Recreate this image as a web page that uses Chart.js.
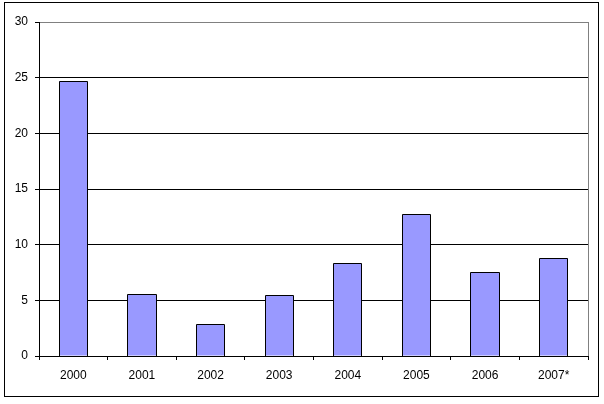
<!DOCTYPE html>
<html><head><meta charset="utf-8">
<script src="https://cdn.jsdelivr.net/npm/chart.js@4"></script>
<style>html,body{margin:0;padding:0;background:#fff}#wrap{width:604px;height:404px}</style>
</head><body><div id="wrap"><canvas id="c" width="604" height="404"></canvas></div>
<script>
const categories = ['2000','2001','2002','2003','2004','2005','2006','2007*'];
const values = [24.7, 5.5, 2.8, 5.4, 8.3, 12.7, 7.5, 8.8];
const yMin = 0, yMax = 30, yStep = 5;

const frame = {
  id: 'frame',
  beforeDraw(chart) {
    const ctx = chart.ctx;
    ctx.save();
    ctx.fillStyle = '#fff';
    ctx.fillRect(0, 0, chart.width, chart.height);
    ctx.restore();
  },
  afterDatasetsDraw(chart) {
    const ctx = chart.ctx;
    const meta = chart.getDatasetMeta(0);
    ctx.save();
    ctx.strokeStyle = '#000';
    ctx.lineWidth = 1;
    meta.data.forEach((el) => {
      const p = el.getProps(['x', 'y', 'base', 'width'], true);
      const l = Math.floor(p.x - p.width / 2) + 0.5;
      const r = Math.ceil(p.x + p.width / 2) - 0.5;
      const t = Math.floor(p.y) + 0.5;
      const b = Math.round(p.base) + 0.5;
      ctx.beginPath();
      ctx.moveTo(l, b);
      ctx.lineTo(l, t);
      ctx.lineTo(r, t);
      ctx.lineTo(r, b);
      ctx.stroke();
    });
    ctx.restore();
  },
  afterDraw(chart) {
    const ctx = chart.ctx, a = chart.chartArea;
    ctx.save();
    ctx.strokeStyle = '#000';
    ctx.lineWidth = 1;
    ctx.strokeRect(4.5, 2.5, 594, 394);
    ctx.strokeStyle = '#808080';
    ctx.beginPath();
    ctx.moveTo(Math.round(a.right) + 0.5, a.top);
    ctx.lineTo(Math.round(a.right) + 0.5, a.bottom);
    ctx.stroke();
    ctx.restore();
  }
};

new Chart(document.getElementById('c'), {
  type: 'bar',
  data: {
    labels: categories,
    datasets: [{
      data: values,
      backgroundColor: '#9999FF',
      borderWidth: 0,
      barPercentage: 0.41,
      categoryPercentage: 1
    }]
  },
  options: {
    responsive: false,
    animation: false,
    devicePixelRatio: 1,
    layout: { padding: { left: 0, right: 16, top: 22, bottom: 0 } },
    plugins: { legend: { display: false }, tooltip: { enabled: false } },
    scales: {
      x: {
        offset: true,
        grid: { offset: true, drawOnChartArea: false, drawTicks: true, tickLength: 4, color: '#000' },
        border: { display: true, color: '#000', width: 1 },
        ticks: { color: '#000', font: { family: 'Liberation Sans, Arial', size: 12 }, padding: 8, maxRotation: 0 },
        afterFit(s) { s.height = 48; }
      },
      y: {
        min: yMin, max: yMax,
        grid: {
          color: (c) => (c.tick && c.tick.value === yMax) ? '#808080' : '#000',
          tickColor: '#000',
          tickLength: 4, drawTicks: true
        },
        border: { display: true, color: '#000', width: 1 },
        ticks: { stepSize: yStep, color: '#000', font: { family: 'Liberation Sans, Arial', size: 12 }, padding: 7 },
        afterFit(s) { s.width = 39; }
      }
    }
  },
  plugins: [frame]
});
</script>
</body></html>
